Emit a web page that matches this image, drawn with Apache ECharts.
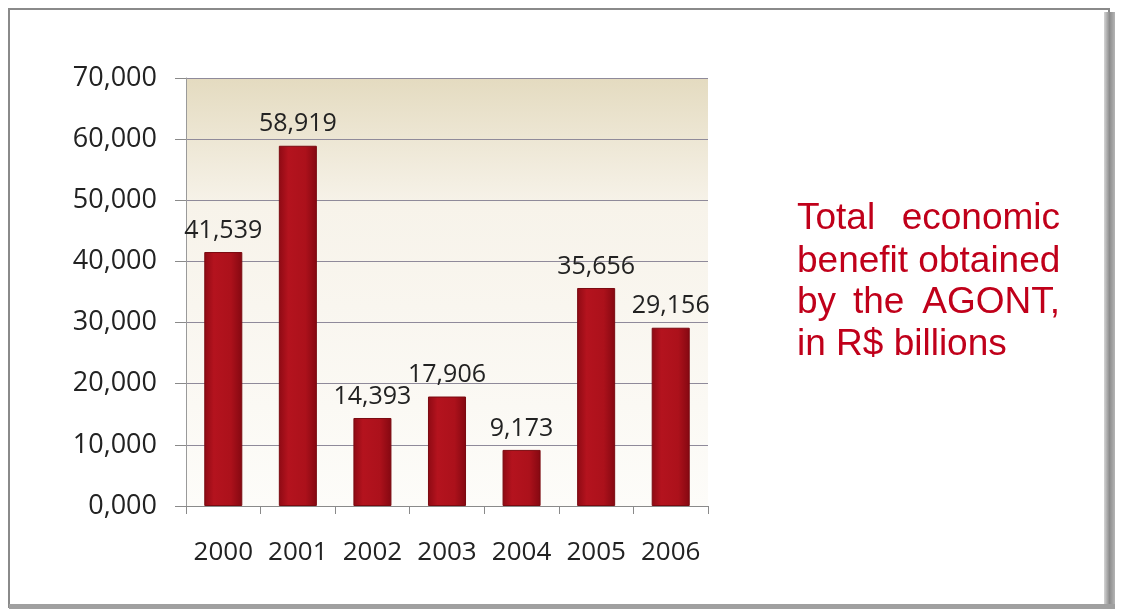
<!DOCTYPE html>
<html>
<head>
<meta charset="utf-8">
<script src="https://cdn.jsdelivr.net/npm/echarts@6/dist/echarts.min.js"></script>
<style>
  html, body { margin: 0; padding: 0; background: #fff; }
  #chart { width: 1122px; height: 616px; }
</style>
</head>
<body>
<div id="chart"></div>
<script>
var years = ['2000', '2001', '2002', '2003', '2004', '2005', '2006']
var benefit = [41539, 58919, 14393, 17906, 9173, 35656, 29156]
var noteLines = [
  ['Total', 'economic'],
  ['benefit obtained'],
  ['by', 'the', 'AGONT,'],
  ['in R$ billions']
]

var chart = echarts.init(document.getElementById('chart'))

function thousands(v) {
  return String(v).replace(/\B(?=(\d{3})+(?!\d))/g, ',')
}

// note text on the right, justified lines like the original
var noteLeft = 797
var noteRight = 1060
var noteTop = [200, 243, 284, 326]
var noteStyle = { fill: '#c0001a', fontSize: 37, fontFamily: 'Liberation Sans, Arial, sans-serif' }
var noteGraphics = []
noteLines.forEach(function(words, i) {
  if (words.length === 1) {
    noteGraphics.push({ type: 'text', left: noteLeft, top: noteTop[i], style: Object.assign({ text: words[0] }, noteStyle) })
  } else if (words.length === 2) {
    noteGraphics.push({ type: 'text', left: noteLeft, top: noteTop[i], style: Object.assign({ text: words[0] }, noteStyle) })
    noteGraphics.push({ type: 'text', right: 1122 - noteRight, top: noteTop[i], style: Object.assign({ text: words[1] }, noteStyle) })
  } else {
    noteGraphics.push({ type: 'text', left: noteLeft, top: noteTop[i], style: Object.assign({ text: words[0] }, noteStyle) })
    noteGraphics.push({ type: 'text', left: 853, top: noteTop[i], style: Object.assign({ text: words[1] }, noteStyle) })
    noteGraphics.push({ type: 'text', right: 1122 - noteRight, top: noteTop[i], style: Object.assign({ text: words[2] }, noteStyle) })
  }
})

var labelFont = 'Open Sans, Lato, sans-serif'

var option = {
  backgroundColor: '#fff',
  animation: false,
  graphic: [
    // page frame
    { type: 'rect', z: -10, shape: { x: 9, y: 9, width: 1100, height: 598 }, style: { fill: '#fff', stroke: '#8a8a8a', lineWidth: 2 } },
    { type: 'rect', z: -9, shape: { x: 1104, y: 12, width: 11, height: 596 },
      style: { fill: new echarts.graphic.LinearGradient(0, 0, 1, 0, [
        { offset: 0, color: '#d5d5d5' }, { offset: 0.5, color: '#8c8c8c' }, { offset: 1, color: '#b5b5b5' }
      ]) } },
    { type: 'rect', z: -9, shape: { x: 9, y: 604, width: 1106, height: 5 }, style: { fill: '#a0a0a0' } }
  ].concat(noteGraphics),
  grid: {
    left: 186,
    right: 414,
    top: 78,
    bottom: 110,
    show: true,
    borderWidth: 0,
    backgroundColor: new echarts.graphic.LinearGradient(0, 0, 0, 1, [
      { offset: 0, color: '#e4dbc0' },
      { offset: 0.3, color: '#f7f3ea' },
      { offset: 1, color: '#fdfcf9' }
    ])
  },
  xAxis: {
    type: 'category',
    data: years,
    axisLine: { lineStyle: { color: '#8a8a8a', width: 1 } },
    axisTick: { show: true, interval: 0, length: 8, lineStyle: { color: '#8a8a8a' } },
    axisLabel: { interval: 0, hideOverlap: false, color: '#222', fontSize: 26, fontFamily: labelFont, margin: 34 }
  },
  yAxis: {
    type: 'value',
    min: 0,
    max: 70000,
    interval: 10000,
    axisLine: { show: true, lineStyle: { color: '#9a9a9a' } },
    axisTick: { show: true, length: 11, lineStyle: { color: '#8a8a8a' } },
    splitLine: { lineStyle: { color: '#8f8a9a', width: 1 } },
    axisLabel: {
      color: '#222',
      fontSize: 27,
      fontFamily: labelFont,
      margin: 29,
      formatter: function(v) { return (v / 1000) + ',000' }
    }
  },
  series: [{
    type: 'bar',
    data: benefit,
    barWidth: '51%',
    itemStyle: {
      color: new echarts.graphic.LinearGradient(0, 0, 1, 0, [
        { offset: 0, color: '#8e0a14' },
        { offset: 0.25, color: '#b4131e' },
        { offset: 0.7, color: '#ac111b' },
        { offset: 1, color: '#840811' }
      ]),
      borderColor: '#7a0a10',
      borderWidth: 1
    },
    label: {
      show: true,
      position: 'top',
      distance: 9,
      color: '#222',
      fontSize: 25,
      fontFamily: labelFont,
      formatter: function(p) { return thousands(p.value) }
    }
  }]
}

chart.setOption(option)
</script>
</body>
</html>
